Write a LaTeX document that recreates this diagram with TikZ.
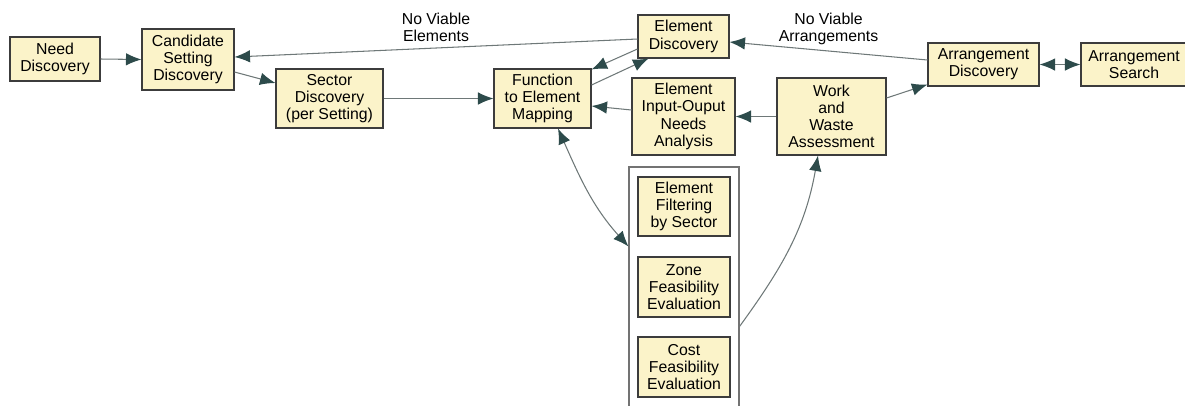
\documentclass[tikz,border=0pt]{standalone}
\usepackage{fontspec}
\setmainfont{Liberation Sans}
\usepackage{xcolor}
\usetikzlibrary{arrows.meta, calc}
\definecolor{boxfill}{HTML}{FBF3C9}
\definecolor{boxline}{HTML}{3C3C3C}
\definecolor{wire}{HTML}{6E7878}
\definecolor{tipc}{HTML}{2D4B4B}

\begin{document}
\begin{tikzpicture}[>={Latex[length=3.1mm, width=2.5mm, color=tipc]}, every node/.style={font=\fontsize{9}{9.8}\selectfont}, box/.style={draw=boxline, line width=0.6pt, fill=boxfill, align=center, inner sep=1pt}, wire/.style={draw=wire, line width=0.6pt}]
  \useasboundingbox (0,0) rectangle (23.70,-8.10);
  \node[box, minimum width=1.80cm, minimum height=0.88cm] (need) at (1.10,-1.18) {Need\\Discovery};
  \node[box, minimum width=1.84cm, minimum height=1.22cm] (cand) at (3.76,-1.19) {Candidate\\Setting\\Discovery};
  \node[box, minimum width=2.14cm, minimum height=1.18cm] (sector) at (6.59,-1.97) {Sector\\Discovery\\(per Setting)};
  \node[box, minimum width=1.94cm, minimum height=1.18cm] (func) at (10.85,-1.97) {Function\\to Element\\Mapping};
  \node[box, minimum width=1.82cm, minimum height=0.86cm] (elemdisc) at (13.67,-0.73) {Element\\Discovery};
  \node[box, minimum width=2.06cm, minimum height=1.54cm] (elemio) at (13.67,-2.33) {Element\\Input-Ouput\\Needs\\Analysis};
  \node[box, minimum width=2.18cm, minimum height=1.54cm] (work) at (16.63,-2.33) {Work\\and\\Waste\\Assessment};
  \node[box, minimum width=2.22cm, minimum height=0.86cm] (arrdisc) at (19.67,-1.29) {Arrangement\\Discovery};
  \node[box, minimum width=2.12cm, minimum height=0.86cm] (arrsearch) at (22.68,-1.29) {Arrangement\\Search};
  % filtering group
  \node[draw=black!55, line width=0.6pt, minimum width=2.20cm, minimum height=5.06cm] (group) at (13.68,-5.87) {};
  \node[box, minimum width=1.84cm, minimum height=1.18cm] (filter) at (13.68,-4.13) {Element\\Filtering\\by Sector};
  \node[box, minimum width=1.84cm, minimum height=1.20cm] (zone) at (13.68,-5.74) {Zone\\Feasibility\\Evaluation};
  \node[box, minimum width=1.84cm, minimum height=1.20cm] (cost) at (13.68,-7.34) {Cost\\Feasibility\\Evaluation};

  \draw[wire, ->] (need.east) -- (cand.west);
  \draw[wire, ->] ($(cand.east)+(0,-0.25)$) -- ($(sector.west)+(0,0.31)$);
  \draw[wire, ->] (sector.east) -- (func.west);
  \draw[wire, ->] ($(elemdisc.west)+(0,-0.05)$) -- ($(cand.east)+(0,0.05)$) node[midway, above, align=center, text=black] (noelem) {No Viable\\Elements};
  \draw[wire, ->] ($(func.east)+(0,0.27)$) -- ($(elemdisc.south west)+(0.22,0)$);
  \draw[wire, ->] ($(elemdisc.west)+(0,-0.25)$) -- ($(func.north east)+(0,-0.02)$);
  \draw[wire, ->] ($(elemio.west)+(0,0.13)$) -- ($(func.east)+(0,-0.15)$);
  \draw[wire, ->] (work.west) -- (elemio.east);
  \draw[wire, ->] ($(arrdisc.west)+(0,0.09)$) -- ($(elemdisc.east)+(0,-0.11)$) node[midway, above, align=center, text=black] (noarr) {No Viable\\Arrangements};
  \draw[wire, ->] ($(work.east)+(0,0.37)$) -- ($(arrdisc.south west)+(0,0.04)$);
  \draw[wire, <->] (arrdisc.east) -- (arrsearch.west);
  \draw[wire, <->] ($(func.south)+(0.31,0)$) to[out=-66, in=132] ($(group.north west)+(0,-1.60)$);
  \draw[wire, ->] ($(group.north east)+(0,-3.20)$) to[out=54, in=-100] ($(work.south)+(-0.27,0)$);
\end{tikzpicture}
\end{document}
